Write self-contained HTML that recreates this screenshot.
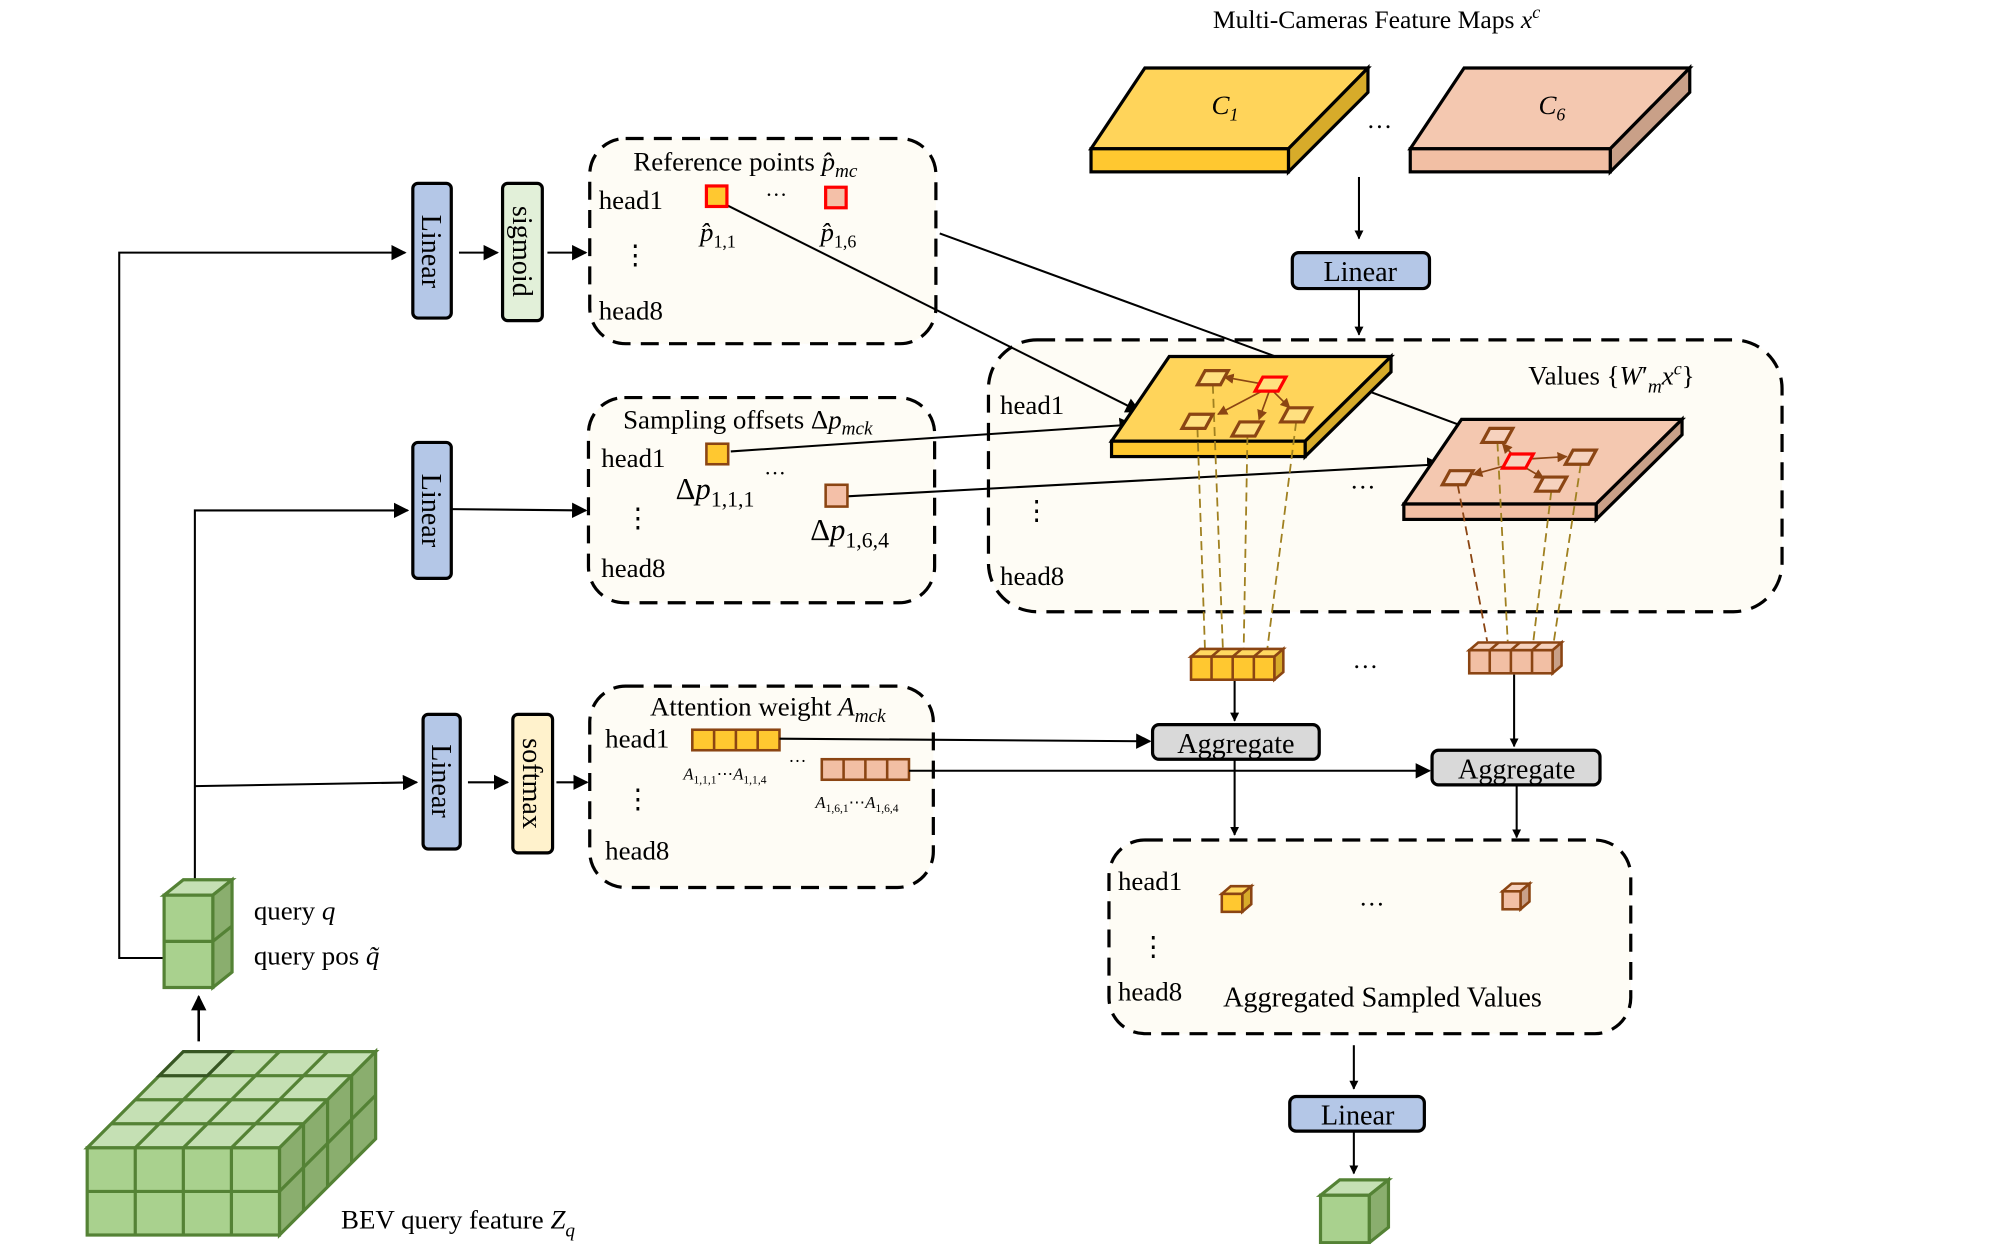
<!DOCTYPE html>
<html><head><meta charset="utf-8"><style>
html,body{margin:0;padding:0;background:#fff;}
svg{display:block;}
text{font-family:"Liberation Serif",serif;fill:#000;}
.i{font-style:italic;}
</style></head><body>
<svg width="2000" height="1244" viewBox="0 0 1560 970" preserveAspectRatio="none" xmlns="http://www.w3.org/2000/svg">
<defs>
<marker id="a" viewBox="0 0 10 10" refX="9" refY="5" markerWidth="7" markerHeight="7" orient="auto-start-reverse" markerUnits="userSpaceOnUse"><path d="M0,0 L10,5 L0,10 z" fill="#000"/></marker>
<marker id="b" viewBox="0 0 10 10" refX="9" refY="5" markerWidth="12" markerHeight="12" orient="auto" markerUnits="userSpaceOnUse"><path d="M0,0 L10,5 L0,10 z" fill="#000"/></marker>
<marker id="br" viewBox="0 0 10 10" refX="9" refY="5" markerWidth="8" markerHeight="8" orient="auto" markerUnits="userSpaceOnUse"><path d="M0,0 L10,5 L0,10 z" fill="#8B4513"/></marker>
</defs>

<text x="946" y="22" font-size="20">Multi-Cameras Feature Maps <tspan class="i">x</tspan><tspan class="i" font-size="14" dy="-8">c</tspan></text>

<polygon points="893,53 1067,53 1005,116 851,116" fill="#FFD45A" stroke="#000" stroke-width="2.5"/>
<polygon points="1005,116 1067,53 1067,72 1005,134" fill="#D7AB2A" stroke="#000" stroke-width="2.5"/>
<rect x="851" y="116" width="154" height="18" fill="#FFC830" stroke="#000" stroke-width="2.5"/>
<text x="945" y="89" font-size="21" class="i">C<tspan font-size="14" dy="5">1</tspan></text>
<polygon points="1142,53 1318,53 1256,116 1100,116" fill="#F4C8B0" stroke="#000" stroke-width="2.5"/>
<polygon points="1256,116 1318,53 1318,72 1256,134" fill="#C9A088" stroke="#000" stroke-width="2.5"/>
<rect x="1100" y="116" width="156" height="18" fill="#F2BFA4" stroke="#000" stroke-width="2.5"/>
<text x="1200" y="89" font-size="21" class="i">C<tspan font-size="14" dy="5">6</tspan></text>
<text x="1066" y="100" font-size="20">…</text>

<line x1="1060" y1="138" x2="1060" y2="186" stroke="#000" stroke-width="1.6" marker-end="url(#a)"/>
<rect x="1008" y="197" width="107" height="28" rx="5" fill="#B4C7E7" stroke="#000" stroke-width="2.5"/>
<text x="1061" y="219" font-size="22" text-anchor="middle">Linear</text>
<line x1="1060" y1="225" x2="1060" y2="261" stroke="#000" stroke-width="1.6" marker-end="url(#a)"/>

<rect x="771" y="265" width="619" height="212" rx="38" fill="#FEFCF5" stroke="#000" stroke-width="2.5" stroke-dasharray="14,8"/>
<rect x="460" y="108" width="270" height="160" rx="28" fill="#FEFCF5" stroke="#000" stroke-width="2.5" stroke-dasharray="14,8"/>
<rect x="459" y="310" width="270" height="160" rx="28" fill="#FEFCF5" stroke="#000" stroke-width="2.5" stroke-dasharray="14,8"/>
<rect x="460" y="535" width="268" height="157" rx="28" fill="#FEFCF5" stroke="#000" stroke-width="2.5" stroke-dasharray="14,8"/>
<rect x="865" y="655" width="407" height="151" rx="28" fill="#FEFCF5" stroke="#000" stroke-width="2.5" stroke-dasharray="14,8"/>

<text x="1192" y="300" font-size="21">Values {<tspan class="i">W</tspan>′<tspan class="i" font-size="15" dy="6">m</tspan><tspan class="i" dy="-6">x</tspan><tspan class="i" font-size="14" dy="-8">c</tspan><tspan dy="8">}</tspan></text>
<text x="780" y="323" font-size="21">head1</text>
<text x="798" y="405" font-size="21">⋮</text>
<text x="780" y="456" font-size="21">head8</text>
<text x="1053" y="381" font-size="20">…</text>

<line x1="733" y1="182" x2="995" y2="278" stroke="#000" stroke-width="1.6"/>
<line x1="567" y1="160" x2="889" y2="321" stroke="#000" stroke-width="1.6" marker-end="url(#b)"/>
<line x1="570" y1="352" x2="884" y2="331" stroke="#000" stroke-width="1.6" marker-end="url(#b)"/>
<line x1="661" y1="387" x2="1124" y2="362" stroke="#000" stroke-width="1.6" marker-end="url(#b)"/>
<line x1="1070" y1="306" x2="1151" y2="336" stroke="#000" stroke-width="1.6" marker-end="url(#b)"/>

<polygon points="912,278 1085,278 1018,344 867,344" fill="#FFD45A" stroke="#000" stroke-width="2.5"/>
<polygon points="1018,344 1085,278 1085,290 1018,356" fill="#D7AB2A" stroke="#000" stroke-width="2.5"/>
<rect x="867" y="344" width="151" height="12" fill="#FFC830" stroke="#000" stroke-width="2.5"/>
<polygon points="1140,327 1312,327 1245,393 1095,393" fill="#F4C8B0" stroke="#000" stroke-width="2.5"/>
<polygon points="1245,393 1312,327 1312,339 1245,405" fill="#C9A088" stroke="#000" stroke-width="2.5"/>
<rect x="1095" y="393" width="150" height="12" fill="#F2BFA4" stroke="#000" stroke-width="2.5"/>

<g stroke="#A08020" stroke-width="1.4" stroke-dasharray="7,4" fill="none">
<line x1="934" y1="334" x2="940" y2="510"/>
<line x1="946" y1="300" x2="954" y2="510"/>
<line x1="973" y1="340" x2="970" y2="510"/>
<line x1="1011" y1="329" x2="988" y2="510"/>
<line x1="1168" y1="345" x2="1176" y2="500"/>
<line x1="1233" y1="362" x2="1212" y2="500"/>
<line x1="1210" y1="383" x2="1196" y2="500"/>
</g>
<line x1="1137" y1="378" x2="1160" y2="500" stroke="#8B4513" stroke-width="1.4" stroke-dasharray="7,4"/>

<g stroke="#8B4513" stroke-width="1.3">
<line x1="988" y1="300" x2="955" y2="294" marker-end="url(#br)"/>
<line x1="988" y1="303" x2="950" y2="323" marker-end="url(#br)"/>
<line x1="990" y1="305" x2="982" y2="327" marker-end="url(#br)"/>
<line x1="993" y1="305" x2="1006" y2="318" marker-end="url(#br)"/>
<line x1="1181" y1="356" x2="1172" y2="346" marker-end="url(#br)"/>
<line x1="1178" y1="362" x2="1149" y2="370" marker-end="url(#br)"/>
<line x1="1190" y1="358" x2="1222" y2="356" marker-end="url(#br)"/>
<line x1="1187" y1="363" x2="1204" y2="373" marker-end="url(#br)"/>
</g>
<g fill="#FFE080" stroke="#8B4513" stroke-width="2.5">
<polygon points="940,289 958,289 952,300 934,300"/>
<polygon points="928,323 946,323 940,334 922,334"/>
<polygon points="967,329 985,329 979,340 961,340"/>
<polygon points="1005,318 1023,318 1017,329 999,329"/>
</g>
<polygon points="985,294 1003,294 997,305 979,305" fill="#FFE080" stroke="#F00" stroke-width="2.5"/>
<g fill="#F6D2BE" stroke="#8B4513" stroke-width="2.5">
<polygon points="1162,334 1180,334 1174,345 1156,345"/>
<polygon points="1131,367 1149,367 1143,378 1125,378"/>
<polygon points="1227,351 1245,351 1239,362 1221,362"/>
<polygon points="1204,372 1222,372 1216,383 1198,383"/>
</g>
<polygon points="1178,354 1196,354 1190,365 1172,365" fill="#F6D2BE" stroke="#F00" stroke-width="2.5"/>

<g stroke="#8B4513" stroke-width="2">
<polygon points="929,512 994,512 1001,506 936,506" fill="#FFD860"/>
<polygon points="994,512 1001,506 1001,524 994,530" fill="#D7AB2A"/>
<rect x="929" y="512" width="65" height="18" fill="#FFC830"/>
<line x1="945" y1="512" x2="945" y2="530"/><line x1="961.5" y1="512" x2="961.5" y2="530"/><line x1="978" y1="512" x2="978" y2="530"/>
<line x1="945" y1="512" x2="952" y2="506"/><line x1="961.5" y1="512" x2="968.5" y2="506"/><line x1="978" y1="512" x2="985" y2="506"/>
<polygon points="1146,507 1211,507 1218,501 1153,501" fill="#F6D2BE"/>
<polygon points="1211,507 1218,501 1218,519 1211,525" fill="#C9A088"/>
<rect x="1146" y="507" width="65" height="18" fill="#F2BFA4"/>
<line x1="1162" y1="507" x2="1162" y2="525"/><line x1="1178.5" y1="507" x2="1178.5" y2="525"/><line x1="1195" y1="507" x2="1195" y2="525"/>
<line x1="1162" y1="507" x2="1169" y2="501"/><line x1="1178.5" y1="507" x2="1185.5" y2="501"/><line x1="1195" y1="507" x2="1202" y2="501"/>
</g>
<text x="1055" y="521" font-size="20">…</text>

<line x1="963" y1="531" x2="963" y2="562" stroke="#000" stroke-width="1.6" marker-end="url(#a)"/>
<line x1="1181" y1="526" x2="1181" y2="582" stroke="#000" stroke-width="1.6" marker-end="url(#a)"/>
<rect x="899" y="565" width="130" height="27" rx="5" fill="#D9D9D9" stroke="#000" stroke-width="2.5"/>
<text x="964" y="587" font-size="22" text-anchor="middle">Aggregate</text>
<rect x="1117" y="585" width="131" height="27" rx="5" fill="#D9D9D9" stroke="#000" stroke-width="2.5"/>
<text x="1183" y="607" font-size="22" text-anchor="middle">Aggregate</text>
<line x1="963" y1="592" x2="963" y2="651" stroke="#000" stroke-width="1.6" marker-end="url(#a)"/>
<line x1="1183" y1="612" x2="1183" y2="653" stroke="#000" stroke-width="1.6" marker-end="url(#a)"/>

<text x="872" y="694" font-size="21">head1</text>
<text x="889" y="745" font-size="21">⋮</text>
<text x="872" y="780" font-size="21">head8</text>
<text x="954" y="785" font-size="22">Aggregated Sampled Values</text>
<text x="1060" y="706" font-size="20">…</text>
<g stroke="#8B4513" stroke-width="2">
<polygon points="953,697 969,697 976,691 960,691" fill="#FFD860"/>
<polygon points="969,697 976,691 976,705 969,711" fill="#D7AB2A"/>
<rect x="953" y="697" width="16" height="14" fill="#FFC830"/>
<polygon points="1172,695 1186,695 1193,689 1179,689" fill="#F6D2BE"/>
<polygon points="1186,695 1193,689 1193,703 1186,709" fill="#C9A088"/>
<rect x="1172" y="695" width="14" height="14" fill="#F2BFA4"/>
</g>

<line x1="1056" y1="815" x2="1056" y2="849" stroke="#000" stroke-width="1.6" marker-end="url(#a)"/>
<rect x="1006" y="855" width="105" height="27" rx="5" fill="#B4C7E7" stroke="#000" stroke-width="2.5"/>
<text x="1059" y="877" font-size="22" text-anchor="middle">Linear</text>
<line x1="1056" y1="882" x2="1056" y2="915" stroke="#000" stroke-width="1.6" marker-end="url(#a)"/>
<g stroke="#548235" stroke-width="2.5">
<polygon points="1030,932 1068,932 1083,920 1045,920" fill="#C5E0B4"/>
<polygon points="1068,932 1083,920 1083,957 1068,969" fill="#8AAE6E"/>
<rect x="1030" y="932" width="38" height="37" fill="#A9D18E"/>
</g>

<text x="494" y="133" font-size="21">Reference points  <tspan class="i">p̂</tspan><tspan class="i" font-size="15" dy="5">mc</tspan></text>
<text x="467" y="163" font-size="21">head1</text>
<rect x="551" y="145" width="16" height="16" fill="#FFC830" stroke="#F00" stroke-width="2.5"/>
<rect x="644" y="146" width="16" height="16" fill="#F4C0A8" stroke="#F00" stroke-width="2.5"/>
<text x="597" y="153" font-size="17">…</text>
<text x="546" y="188" font-size="21" class="i">p̂<tspan font-size="14" dy="5" font-style="normal">1,1</tspan></text>
<text x="640" y="188" font-size="21" class="i">p̂<tspan font-size="14" dy="5" font-style="normal">1,6</tspan></text>
<text x="485" y="206" font-size="21">⋮</text>
<text x="467" y="249" font-size="21">head8</text>

<text x="486" y="334" font-size="21">Sampling offsets Δ<tspan class="i">p</tspan><tspan class="i" font-size="15" dy="5">mck</tspan></text>
<text x="469" y="364" font-size="21">head1</text>
<rect x="551" y="346" width="17" height="16" fill="#FFC830" stroke="#8B4513" stroke-width="2"/>
<rect x="644" y="378" width="17" height="17" fill="#F4C0A8" stroke="#8B4513" stroke-width="2"/>
<text x="527" y="389" font-size="24">Δ<tspan class="i">p</tspan><tspan font-size="17" dy="6">1,1,1</tspan></text>
<text x="596" y="370" font-size="17">…</text>
<text x="632" y="421" font-size="24">Δ<tspan class="i">p</tspan><tspan font-size="17" dy="6">1,6,4</tspan></text>
<text x="487" y="411" font-size="21">⋮</text>
<text x="469" y="450" font-size="21">head8</text>

<text x="507" y="558" font-size="21">Attention weight  <tspan class="i">A</tspan><tspan class="i" font-size="15" dy="5">mck</tspan></text>
<text x="472" y="583" font-size="21">head1</text>
<g stroke="#8B4513" stroke-width="2">
<rect x="540" y="569" width="68" height="16" fill="#FFC830"/>
<line x1="557" y1="569" x2="557" y2="585"/><line x1="574" y1="569" x2="574" y2="585"/><line x1="591" y1="569" x2="591" y2="585"/>
<rect x="641" y="592" width="68" height="16" fill="#F2BFA4"/>
<line x1="658" y1="592" x2="658" y2="608"/><line x1="675" y1="592" x2="675" y2="608"/><line x1="692" y1="592" x2="692" y2="608"/>
</g>
<text x="533" y="608" font-size="13"><tspan class="i">A</tspan><tspan font-size="9" dy="3">1,1,1</tspan><tspan dy="-3">⋯</tspan><tspan class="i">A</tspan><tspan font-size="9" dy="3">1,1,4</tspan></text>
<text x="615" y="594" font-size="14">…</text>
<text x="636" y="630" font-size="13"><tspan class="i">A</tspan><tspan font-size="9" dy="3">1,6,1</tspan><tspan dy="-3">⋯</tspan><tspan class="i">A</tspan><tspan font-size="9" dy="3">1,6,4</tspan></text>
<text x="487" y="630" font-size="21">⋮</text>
<text x="472" y="670" font-size="21">head8</text>
<line x1="608" y1="576" x2="897" y2="578" stroke="#000" stroke-width="1.6" marker-end="url(#b)"/>
<line x1="709" y1="601" x2="1115" y2="601" stroke="#000" stroke-width="1.6" marker-end="url(#b)"/>

<rect x="322" y="143" width="30" height="105" rx="4" fill="#B4C7E7" stroke="#000" stroke-width="2.5"/>
<text transform="translate(329,196) rotate(90)" font-size="22" text-anchor="middle">Linear</text>
<rect x="392" y="143" width="31" height="107" rx="4" fill="#E2F0D9" stroke="#000" stroke-width="2.5"/>
<text transform="translate(400,196) rotate(90)" font-size="22" text-anchor="middle">sigmoid</text>
<rect x="322" y="345" width="30" height="106" rx="4" fill="#B4C7E7" stroke="#000" stroke-width="2.5"/>
<text transform="translate(329,398) rotate(90)" font-size="22" text-anchor="middle">Linear</text>
<rect x="330" y="557" width="29" height="105" rx="4" fill="#B4C7E7" stroke="#000" stroke-width="2.5"/>
<text transform="translate(337,609) rotate(90)" font-size="22" text-anchor="middle">Linear</text>
<rect x="400" y="557" width="31" height="108" rx="4" fill="#FFF2CC" stroke="#000" stroke-width="2.5"/>
<text transform="translate(408,611) rotate(90)" font-size="22" text-anchor="middle">softmax</text>

<g stroke="#000" stroke-width="1.6" fill="none">
<polyline points="128,747 93,747 93,197 316,197" marker-end="url(#b)"/>
<polyline points="152,686 152,398 318,398" marker-end="url(#b)"/>
<line x1="152" y1="613" x2="325" y2="610" marker-end="url(#b)"/>
<line x1="352" y1="397" x2="457" y2="398" marker-end="url(#b)"/>
<line x1="358" y1="197" x2="388" y2="197" marker-end="url(#b)"/>
<line x1="427" y1="197" x2="457" y2="197" marker-end="url(#b)"/>
<line x1="365" y1="610" x2="396" y2="610" marker-end="url(#b)"/>
<line x1="434" y1="610" x2="458" y2="610" marker-end="url(#b)"/>
<line x1="155" y1="812" x2="155" y2="777" stroke-width="2" marker-end="url(#b)"/>
</g>

<g stroke="#548235" stroke-width="2.5">
<polygon points="128,698 166,698 181,686 143,686" fill="#C5E0B4"/>
<polygon points="166,698 181,686 181,758 166,770" fill="#8AAE6E"/>
<line x1="166" y1="734" x2="181" y2="722"/>
<rect x="128" y="698" width="38" height="72" fill="#A9D18E"/>
<line x1="128" y1="734" x2="166" y2="734"/>
</g>
<text x="198" y="717" font-size="21">query <tspan class="i">q</tspan></text>
<text x="198" y="752" font-size="21">query pos <tspan class="i">q̃</tspan></text>

<g stroke="#548235" stroke-width="2.5">
<polygon points="68,895 218,895 293,820 143,820" fill="#C5E0B4"/>
<polygon points="218,895 293,820 293,888 218,963" fill="#8AAE6E"/>
<rect x="68" y="895" width="150" height="68" fill="#A9D18E"/>
<line x1="105.5" y1="895" x2="105.5" y2="963"/><line x1="143" y1="895" x2="143" y2="963"/><line x1="180.5" y1="895" x2="180.5" y2="963"/>
<line x1="68" y1="929" x2="218" y2="929"/>
<line x1="86.75" y1="876.25" x2="236.75" y2="876.25"/>
<line x1="105.5" y1="857.5" x2="255.5" y2="857.5"/>
<line x1="124.25" y1="838.75" x2="274.25" y2="838.75"/>
<line x1="105.5" y1="895" x2="180.5" y2="820"/><line x1="143" y1="895" x2="218" y2="820"/><line x1="180.5" y1="895" x2="255.5" y2="820"/>
<line x1="236.75" y1="876.25" x2="236.75" y2="944.25"/><line x1="255.5" y1="857.5" x2="255.5" y2="925.5"/><line x1="274.25" y1="838.75" x2="274.25" y2="906.75"/>
<line x1="218" y1="929" x2="293" y2="854"/>
</g>
<polygon points="124.25,838.75 161.75,838.75 180.5,820 143,820" fill="#C5E0B4" stroke="#375623" stroke-width="2.5"/>
<text x="266" y="958" font-size="21">BEV query feature <tspan class="i">Z</tspan><tspan class="i" font-size="15" dy="6">q</tspan></text>
</svg>
</body></html>
